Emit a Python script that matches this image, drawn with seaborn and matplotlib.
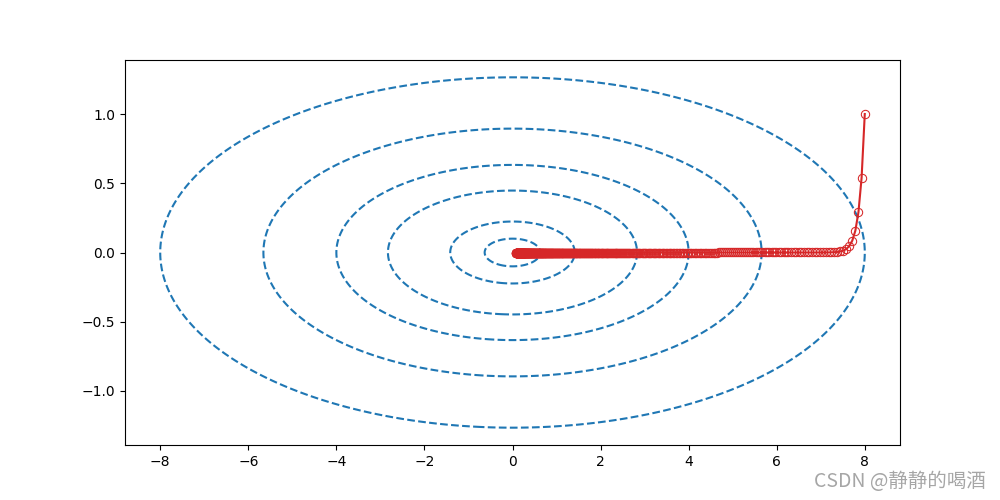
import numpy as np
import pandas as pd
import seaborn as sns
from matplotlib import pyplot as plt

# contour levels of f(x, y) = x^2 / 20 + 2 y^2
levels = [0.02, 0.1, 0.4, 0.8, 1.6, 3.2]
x_weight = 1 / 20
y_weight = 2.0

# gradient descent run
start = [8.0, 1.0]
x_ratio = 0.991
y_ratio = 0.54
n_steps = 500


def descent_path():
    xs, ys = [start[0]], [start[1]]
    for _ in range(n_steps):
        xs.append(xs[-1] * x_ratio)
        ys.append(ys[-1] * y_ratio)
    return pd.DataFrame({'x': xs, 'y': ys})


def plot():
    fig, ax = plt.subplots(figsize=(10, 5), dpi=100)

    gx, gy = np.meshgrid(np.linspace(-8.8, 8.8, 600), np.linspace(-1.4, 1.4, 400))
    gz = x_weight * gx ** 2 + y_weight * gy ** 2
    ax.contour(gx, gy, gz, levels=levels, colors='#1f77b4', linestyles='dashed')

    df = descent_path()
    sns.lineplot(data=df, x='x', y='y', sort=False, ax=ax, color='#d62728',
                 marker='o', markerfacecolor='none', markeredgecolor='#d62728',
                 markersize=6, linewidth=1.5)

    ax.set_xlim(-8.8, 8.8)
    ax.set_ylim(-1.39, 1.39)
    ax.set_xlabel('')
    ax.set_ylabel('')
    ax.set_xticks([-8, -6, -4, -2, 0, 2, 4, 6, 8])
    ax.set_yticks([-1.0, -0.5, 0.0, 0.5, 1.0])

    fig.text(0.986, 0.016, 'CSDN @静静的喝酒', ha='right', va='bottom',
             fontsize=14, color='#a6a6a6',
             family=['Noto Sans CJK SC', 'DejaVu Sans'])

    plt.subplots_adjust(left=0.125, right=0.9, top=0.88, bottom=0.11)
    plt.savefig('out.png')


def main():
    plot()


if __name__ == "__main__":
    main()
